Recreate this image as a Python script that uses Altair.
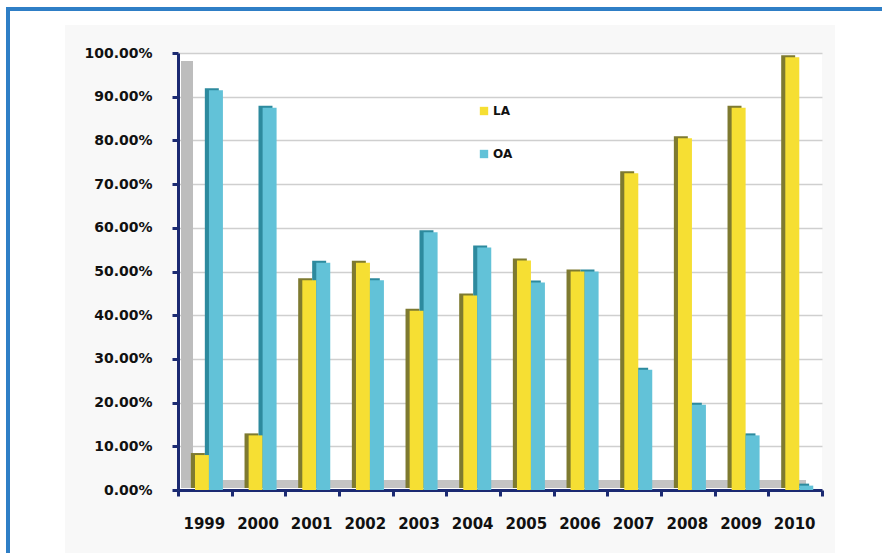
import altair as alt
import pandas as pd

years = ["1999", "2000", "2001", "2002", "2003", "2004",
         "2005", "2006", "2007", "2008", "2009", "2010"]
la_values = [0.08, 0.125, 0.48, 0.52, 0.41, 0.445, 0.525, 0.50, 0.725, 0.805, 0.875, 0.99]
oa_values = [0.915, 0.875, 0.52, 0.48, 0.59, 0.555, 0.475, 0.50, 0.275, 0.195, 0.125, 0.01]
series = ["LA", "OA"]
face_colors = ["#f6df33", "#62c2d8"]
side_colors = ["#7e7a30", "#2d8a9e"]
y_ticks = [0, 0.1, 0.2, 0.3, 0.4, 0.5, 0.6, 0.7, 0.8, 0.9, 1.0]

rows = []
for i, y in enumerate(years):
    rows.append({"year": y, "series": "LA", "value": la_values[i]})
    rows.append({"year": y, "series": "OA", "value": oa_values[i]})
df = pd.DataFrame(rows)

W, H = 644, 437
FONT = "DejaVu Sans"
NAVY = "#1b2a72"

x_enc = alt.X("year:N", sort=years, title=None,
              scale=alt.Scale(paddingInner=0, paddingOuter=0),
              axis=alt.Axis(labelAngle=0, labelFont=FONT, labelFontWeight="bold",
                            labelFontSize=15, labelColor="#111111", labelPadding=20,
                            labelOffset=-1, tickBand="extent", tickColor=NAVY, tickSize=6,
                            tickWidth=3, domainColor=NAVY, domainWidth=3, grid=False))
y_enc = alt.Y("value:Q", title=None,
              scale=alt.Scale(domain=[0, 1], nice=False, zero=True),
              axis=alt.Axis(format=".2%", values=y_ticks, labelFont=FONT,
                            labelFontWeight="bold", labelFontSize=14,
                            labelColor="#111111", labelPadding=20, tickColor=NAVY,
                            tickSize=6, tickWidth=3, domainColor=NAVY, domainWidth=3,
                            grid=True, gridColor="#cfcfcf", gridWidth=1.5))

base = alt.Chart(df)

# decorative white margins and blue frame (outside the axes)
strip_left = base.mark_rect(fill="white").encode(
    x=alt.value(-178), x2=alt.value(65 - 178), y=alt.value(-53), y2=alt.value(600))
strip_right = base.mark_rect(fill="white").encode(
    x=alt.value(835 - 178), x2=alt.value(900), y=alt.value(-53), y2=alt.value(600))
strip_top = base.mark_rect(fill="white").encode(
    x=alt.value(-178), x2=alt.value(900), y=alt.value(-53), y2=alt.value(25 - 53))
frame = base.mark_rect(fill=None, stroke="#2f7fc6", strokeWidth=3).encode(
    x=alt.value(8 - 178), x2=alt.value(900 - 178),
    y=alt.value(9 - 53), y2=alt.value(600 - 53))
wall = base.mark_rect(fill="#bdbdbd").encode(
    x=alt.value(3), x2=alt.value(15), y=alt.value(8), y2=alt.value(H - 2))
floor = base.mark_rect(fill="#c4c4c4").encode(
    x=alt.value(3), x2=alt.value(W - 16), y=alt.value(H - 10), y2=alt.value(H - 2))

shadow = base.mark_bar(yOffset=-2).encode(
    x=x_enc, y=y_enc,
    xOffset=alt.XOffset("series:N", sort=series,
                        scale=alt.Scale(paddingInner=0, paddingOuter=0.92, align=0.5)),
    color=alt.Color("series:N", scale=alt.Scale(domain=series, range=side_colors),
                    legend=None))

face = base.mark_bar().encode(
    x=x_enc, y=y_enc,
    xOffset=alt.XOffset("series:N", sort=series,
                        scale=alt.Scale(paddingInner=0, paddingOuter=0.92, align=0.66)),
    color=alt.Color("series:N", scale=alt.Scale(domain=series, range=face_colors),
                    legend=alt.Legend(title=None, orient="none", legendX=300,
                                      legendY=52, symbolType="square",
                                      symbolSize=70, symbolStrokeWidth=0,
                                      labelFont=FONT, labelFontWeight="bold",
                                      labelFontSize=12, labelColor="#111111",
                                      rowPadding=31, labelOffset=3)))

chart = alt.layer(strip_left, strip_right, strip_top, frame, wall, floor,
                  shadow, face).resolve_scale(
    color="independent", xOffset="independent"
).properties(
    width=W, height=H,
    autosize=alt.AutoSizeParams(type="none"),
    padding={"left": 178, "top": 53, "right": 60, "bottom": 63},
    background="#f8f8f8",
).configure_view(stroke=None, fill="white")

chart.save("out.html", embed_options={"renderer": "svg", "actions": False})
